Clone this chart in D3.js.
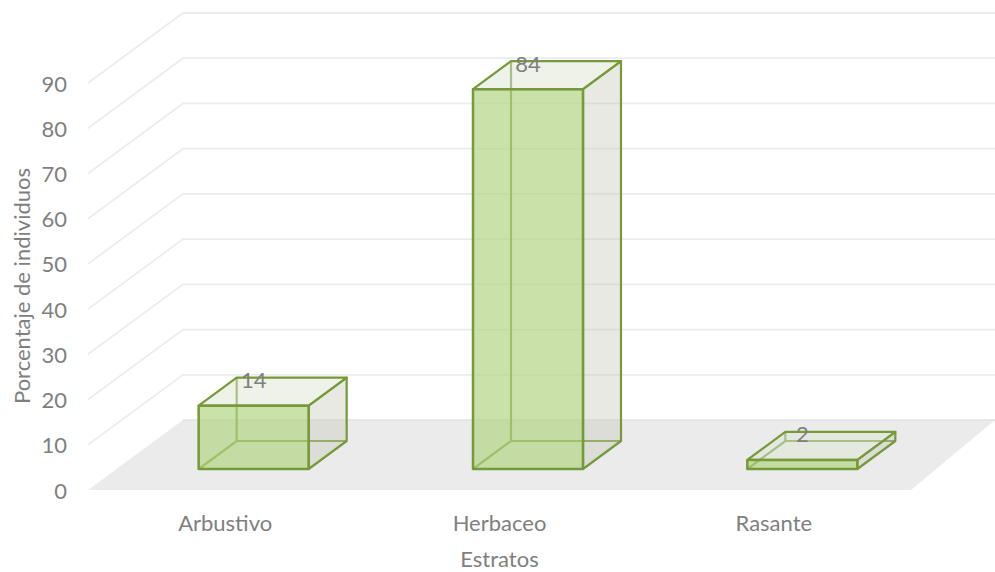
<!DOCTYPE html>
<html>
<head>
<meta charset="utf-8">
<script src="https://cdn.jsdelivr.net/npm/d3@7"></script>
<style>
  body { margin: 0; background: #fff; }
  svg { display: block; font-family: Lato, 'Open Sans', sans-serif; }
  .tick-label { fill: #7f7f7f; font-size: 22px; }
  .title { fill: #7f7f7f; font-size: 22px; }
</style>
</head>
<body>
<svg id="chart" width="995" height="572"></svg>
<script>
const categories = ['Arbustivo', 'Herbaceo', 'Rasante'];
const values = [14, 84, 2];
const yTicks = [0, 10, 20, 30, 40, 50, 60, 70, 80, 90];

const svg = d3.select('#chart');

// oblique projection: depth 0 = front of floor, 1 = back wall
const DX = 95;
const DY = 70;
const DX_RIGHT = 84; // floor right edge leans a bit less
const barDepth = [0.3, 0.7];

const x = d3.scaleBand().domain(categories).range([88, 911]).paddingInner(0).paddingOuter(0);
const y = d3.scaleLinear().domain([0, 90]).range([490, 83]);
const barW = 110;

function P(px, v, d) {
  return [px + d * DX, y(v) - d * DY];
}

const wallRight = 995;

// floor
const x0 = x.range()[0];
const x1 = x.range()[1];
svg
  .append('polygon')
  .attr('points', [[x0, y(0)], [x1, y(0)], [x1 + DX_RIGHT, y(0) - DY], [x0 + DX, y(0) - DY]].map((p) => p.join(',')).join(' '))
  .attr('fill', '#ebebeb');

svg
  .append('line')
  .attr('x1', x0 + DX)
  .attr('x2', wallRight)
  .attr('y1', y(0) - DY)
  .attr('y2', y(0) - DY)
  .attr('stroke', '#e2e2e2')
  .attr('stroke-width', 1.5);

// gridlines: side wall diagonal + back wall horizontal
yTicks.filter((t) => t > 0).forEach((t) => {
  const front = P(x0, t, 0);
  const back = P(x0, t, 1);
  svg
    .append('polyline')
    .attr('points', [front, back, [wallRight, back[1]]].map((p) => p.join(',')).join(' '))
    .attr('fill', 'none')
    .attr('stroke', '#ececec')
    .attr('stroke-width', 1.8);
});

// tick labels
svg
  .selectAll('.ytick')
  .data(yTicks)
  .join('text')
  .attr('class', 'tick-label')
  .attr('x', 67)
  .attr('y', (d) => y(d))
  .attr('text-anchor', 'end')
  .attr('dominant-baseline', 'central')
  .text((d) => d);

// bars
const stroke = '#76993a';
categories.forEach((c, i) => {
  const v = values[i];
  const left = x(c) + (x.bandwidth() - barW) / 2;
  const right = left + barW;
  const [d0, d1] = barDepth;
  const fbl = P(left, 0, d0), fbr = P(right, 0, d0), ftl = P(left, v, d0), ftr = P(right, v, d0);
  const bbl = P(left, 0, d1), bbr = P(right, 0, d1), btl = P(left, v, d1), btr = P(right, v, d1);
  const g = svg.append('g');
  const poly = (pts) => pts.map((p) => p.join(',')).join(' ');

  // hidden edges (seen through the faces)
  g.append('polyline')
    .attr('points', poly([fbl, bbl, bbr]))
    .attr('fill', 'none')
    .attr('stroke', stroke)
    .attr('stroke-width', 2.2);
  g.append('line')
    .attr('x1', bbl[0]).attr('y1', bbl[1]).attr('x2', btl[0]).attr('y2', btl[1])
    .attr('stroke', stroke)
    .attr('stroke-width', 2.2);

  // right side face
  g.append('polygon')
    .attr('points', poly([fbr, bbr, btr, ftr]))
    .attr('fill', 'rgb(200,200,184)')
    .attr('fill-opacity', 0.4)
    .attr('stroke', stroke)
    .attr('stroke-width', 2.2)
    .attr('stroke-linejoin', 'round');

  // top face
  g.append('polygon')
    .attr('points', poly([ftl, ftr, btr, btl]))
    .attr('fill', 'rgb(222,230,210)')
    .attr('fill-opacity', 0.5)
    .attr('stroke', stroke)
    .attr('stroke-width', 2.2)
    .attr('stroke-linejoin', 'round');

  // front face
  g.append('polygon')
    .attr('points', poly([fbl, fbr, ftr, ftl]))
    .attr('fill', 'rgb(178,211,130)')
    .attr('fill-opacity', 0.68)
    .attr('stroke', stroke)
    .attr('stroke-width', 2.5)
    .attr('stroke-linejoin', 'round');

  // value label
  g.append('text')
    .attr('class', 'tick-label')
    .attr('x', (left + right) / 2 + d0 * DX)
    .attr('y', btl[1] + 2)
    .attr('text-anchor', 'middle')
    .attr('dominant-baseline', 'central')
    .text(v);
});

// category labels
svg
  .selectAll('.xlab')
  .data(categories)
  .join('text')
  .attr('class', 'tick-label')
  .attr('x', (d) => x(d) + x.bandwidth() / 2)
  .attr('y', 522)
  .attr('text-anchor', 'middle')
  .attr('dominant-baseline', 'central')
  .text((d) => d);

// axis titles
svg
  .append('text')
  .attr('class', 'title')
  .attr('x', (x0 + x1) / 2)
  .attr('y', 558)
  .attr('text-anchor', 'middle')
  .attr('dominant-baseline', 'central')
  .text('Estratos');

svg
  .append('text')
  .attr('class', 'title')
  .attr('transform', 'translate(21,286) rotate(-90)')
  .attr('text-anchor', 'middle')
  .attr('dominant-baseline', 'central')
  .text('Porcentaje de individuos');
</script>
</body>
</html>
